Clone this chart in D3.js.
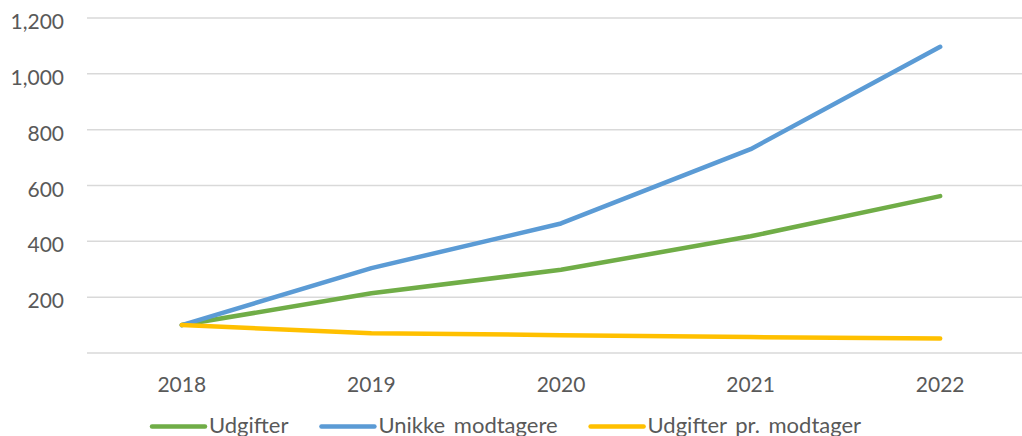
<!DOCTYPE html>
<html>
<head>
<meta charset="utf-8">
<script src="https://cdn.jsdelivr.net/npm/d3@7"></script>
<style>
  body { margin: 0; background: #fff; }
  svg { display: block; font-family: Lato, "Open Sans", sans-serif; }
</style>
</head>
<body>
<svg id="chart"></svg>
<script>
const WIDTH = 1022;
const HEIGHT = 436;

// data
const years = ["2018", "2019", "2020", "2021", "2022"];
const udgifter = [100, 214, 298, 418, 562];
const unikkeModtagere = [100, 304, 464, 730, 1097];
const udgifterPrModtager = [100, 71, 64, 57, 52];
const yTicks = [200, 400, 600, 800, 1000, 1200];

const series = [
  { name: "Udgifter", values: udgifter, color: "#70ad47" },
  { name: "Unikke modtagere", values: unikkeModtagere, color: "#5b9bd5" },
  { name: "Udgifter pr. modtager", values: udgifterPrModtager, color: "#ffc000" }
];

let svg = d3.select("#chart")
  .attr("width", WIDTH)
  .attr("height", HEIGHT);

let x = d3.scaleBand()
  .domain(years)
  .range([87, 1035]);

let y = d3.scaleLinear()
  .domain([0, 1200])
  .range([353, 18]);

// gridlines (0 line acts as the axis)
svg.append("g")
  .attr("class", "grid")
  .selectAll("line")
  .data([0].concat(yTicks))
  .enter().append("line")
  .attr("x1", 87)
  .attr("x2", 1035)
  .attr("y1", d => y(d))
  .attr("y2", d => y(d))
  .style("stroke", "#d9d9d9")
  .style("stroke-width", 1.5);

// y labels
svg.append("g")
  .selectAll("text")
  .data(yTicks)
  .enter().append("text")
  .attr("x", 64)
  .attr("y", d => y(d) + 11)
  .attr("text-anchor", "end")
  .style("font-size", "21px")
  .style("fill", "#595959")
  .text(d => d3.format(",")(d));

// x labels
svg.append("g")
  .selectAll("text")
  .data(years)
  .enter().append("text")
  .attr("x", d => x(d) + x.bandwidth() / 2)
  .attr("y", 392)
  .attr("text-anchor", "middle")
  .style("font-size", "21px")
  .style("fill", "#595959")
  .text(d => d);

let line = d3.line()
  .x((d, i) => x(years[i]) + x.bandwidth() / 2)
  .y(d => y(d));

svg.append("g")
  .selectAll("path")
  .data(series)
  .enter().append("path")
  .attr("d", d => line(d.values))
  .style("fill", "none")
  .style("stroke", d => d.color)
  .style("stroke-width", 4.5)
  .style("stroke-linecap", "round")
  .style("stroke-linejoin", "round");

// legend
let legend = svg.append("g").attr("class", "legend");
let lx = 150;
series.forEach((s) => {
  legend.append("line")
    .attr("x1", lx + 2)
    .attr("x2", lx + 55)
    .attr("y1", 426.5)
    .attr("y2", 426.5)
    .style("stroke", s.color)
    .style("stroke-width", 4.5)
    .style("stroke-linecap", "round");
  let t = legend.append("text")
    .attr("x", lx + 59)
    .attr("y", 433)
    .style("font-size", "22px")
    .style("word-spacing", "3px")
    .style("fill", "#595959")
    .text(s.name);
  lx += 59 + t.node().getComputedTextLength() + 31;
});
</script>
</body>
</html>
